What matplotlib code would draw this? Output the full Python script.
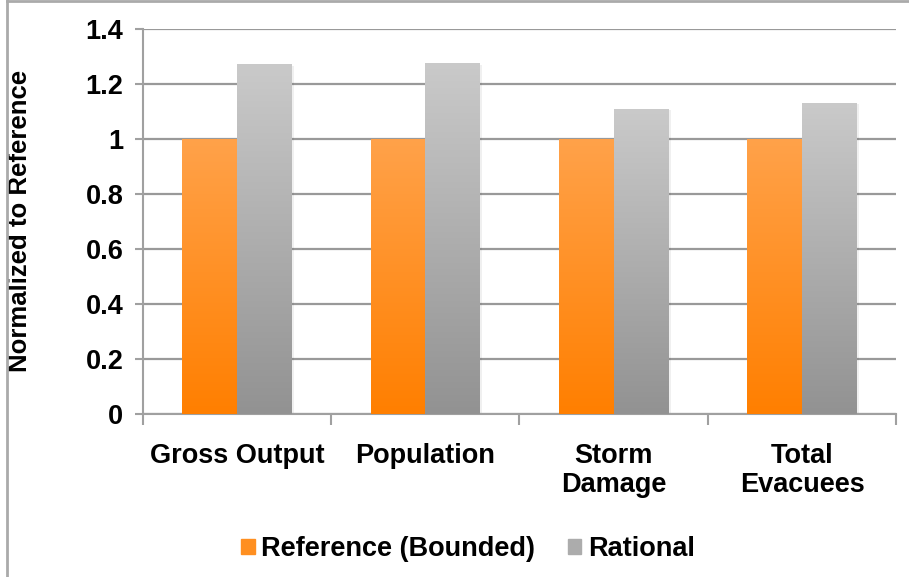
import matplotlib
matplotlib.use("Agg")
import matplotlib.pyplot as plt
import numpy as np
from matplotlib.colors import LinearSegmentedColormap
from matplotlib.patches import Patch, Rectangle

categories = ["Gross Output", "Population", "Storm\nDamage", "Total\nEvacuees"]
reference = [1.0, 1.0, 1.0, 1.0]
rational = [1.273, 1.276, 1.110, 1.131]
series_names = ["Reference (Bounded)", "Rational"]
yticks = [0, 0.2, 0.4, 0.6, 0.8, 1, 1.2, 1.4]
ytick_labels = ["0", "0.2", "0.4", "0.6", "0.8", "1", "1.2", "1.4"]

plt.rcParams["font.family"] = ["Liberation Sans", "DejaVu Sans"]
plt.rcParams["font.weight"] = "bold"

orange_cmap = LinearSegmentedColormap.from_list("o", ["#FF7F00", "#FFA24A"])
gray_cmap = LinearSegmentedColormap.from_list("g", ["#929292", "#CACACA"])


def gradient_bars(ax, x, heights, width, cmap):
    bars = ax.bar(x, heights, width, color="none", edgecolor="none", zorder=3)
    grad = np.linspace(0, 1, 256).reshape(-1, 1)
    for b in bars:
        x0, y0 = b.get_x(), b.get_y()
        w, h = b.get_width(), b.get_height()
        # soft shadow on the right
        ax.add_patch(Rectangle((x0 + w, y0), 0.012, h * 0.995,
                               color="#000000", alpha=0.06, zorder=2.5, lw=0))
        im = ax.imshow(grad, cmap=cmap, origin="lower", aspect="auto",
                       extent=(x0, x0 + w, y0, y0 + h), zorder=3)
        im.set_clip_path(b)
    return bars


fig = plt.figure(figsize=(9.09, 5.77), dpi=100)
ax = fig.add_axes([0.157, 0.2825, 0.829, 0.6675])

x = np.arange(len(categories))
w = 0.29
gradient_bars(ax, x - w / 2, reference, w, orange_cmap)
gradient_bars(ax, x + w / 2, rational, w, gray_cmap)

ax.set_xlim(-0.5, len(categories) - 0.5)
ax.set_ylim(0, 1.4)
ax.set_yticks(yticks)
ax.set_yticklabels(ytick_labels, fontsize=19.5, fontweight="bold")
ax.yaxis.grid(True, color="#999999", lw=1.6, zorder=1)
ax.set_axisbelow(True)

ax.set_xticks(np.arange(-0.5, len(categories)), minor=False)
ax.set_xticklabels([])
ax.set_xticks(x, minor=True)
ax.set_xticklabels(categories, minor=True, fontsize=19.5, fontweight="bold",
                   linespacing=1.12)
ax.tick_params(axis="x", which="major", length=8, width=1.5, color="#A0A0A0")
ax.tick_params(axis="x", which="minor", length=0, pad=21)
ax.tick_params(axis="y", length=6, width=1.5, color="#A0A0A0", pad=8)

for s in ["top", "right"]:
    ax.spines[s].set_visible(False)
for s in ["left", "bottom"]:
    ax.spines[s].set_color("#A0A0A0")
    ax.spines[s].set_linewidth(1.5)

ax.set_ylabel("Normalized to Reference", fontsize=18.5, fontweight="bold")
ax.yaxis.set_label_coords(-0.147, 0.5)

handles = [Patch(color="#FF8F20"), Patch(color="#ACACAC")]
fig.legend(handles, series_names, loc="center", bbox_to_anchor=(0.515, 0.048),
           ncol=2, frameon=False, handlelength=0.5, handleheight=0.5,
           handletextpad=0.25, columnspacing=1.2,
           prop={"weight": "bold", "size": 19.5})

# outer chart border (only top and left visible in the reference)
fig.add_artist(plt.Line2D([0.008, 0.008], [0, 0.998], color="#AAAAAA", lw=2,
                          transform=fig.transFigure))
fig.add_artist(plt.Line2D([0.008, 1], [0.998, 0.998], color="#AAAAAA", lw=2,
                          transform=fig.transFigure))

fig.savefig("out.png", dpi=100)
